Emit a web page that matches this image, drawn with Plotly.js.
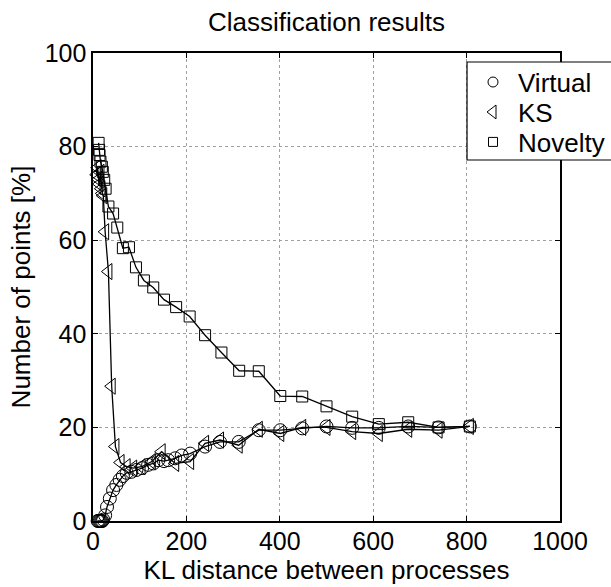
<!DOCTYPE html>
<html>
<head>
<meta charset="utf-8">
<script src="https://cdn.plot.ly/plotly-3.0.1.min.js"></script>
<style>html,body{margin:0;padding:0;background:#fff;}#chart{width:611px;height:587px;}</style>
</head>
<body>
<div id="chart"></div>
<script>
// Data
var virtualX = [10, 12, 14, 16, 18, 20, 22, 26, 30, 36, 43, 50, 57, 64, 72, 82, 93, 105, 118, 129, 140, 152, 161, 176, 190, 208, 240, 272, 312, 355, 401, 448, 500, 555, 612, 675, 740, 807];
var virtualY = [0, 0, 0, 0, 0, 0, 0.3, 1.2, 3.0, 4.8, 6.6, 7.7, 8.8, 9.6, 10.3, 10.5, 10.9, 11.3, 12.0, 12.3, 13.0, 12.8, 13.0, 13.4, 14.0, 14.4, 15.9, 16.9, 16.9, 19.4, 19.4, 19.8, 20.2, 19.9, 19.9, 20.2, 20.0, 20.2];

var ksX = [8, 10, 12, 14, 16, 18, 20, 22, 26, 33, 40, 48, 59, 72, 86, 104, 126, 147, 176, 208, 240, 272, 312, 355, 401, 448, 500, 555, 612, 675, 740, 807];
var ksY = [74, 75.5, 73, 72, 74.5, 71, 70, 69.5, 61.8, 53.3, 28.8, 15.9, 12.5, 11.6, 11.3, 11.6, 12.7, 14.8, 12.3, 12.7, 16.6, 17.3, 16.2, 19.6, 18.7, 20.0, 20.0, 19.1, 18.7, 19.6, 19.4, 20.2];

var noveltyX = [12, 13, 14, 16, 19, 21, 24, 27, 33, 43, 52, 64, 77, 92, 109, 129, 152, 178, 207, 240, 275, 313, 355, 401, 448, 500, 555, 612, 675, 740, 807];
var noveltyY = [80.8, 79.3, 78.2, 76.8, 75.7, 74.6, 72.9, 71.0, 67.2, 65.7, 62.7, 58.3, 58.5, 54.2, 51.4, 49.9, 47.3, 45.7, 43.7, 39.7, 36.0, 32.1, 32.0, 26.7, 26.6, 24.5, 22.3, 20.7, 21.1, 20.0, 20.2];

var seriesNames = ['Virtual', 'KS', 'Novelty'];
var xTicks = [0, 200, 400, 600, 800, 1000];
var yTicks = [0, 20, 40, 60, 80, 100];

var FONT = 'Liberation Sans, Arial, Helvetica, sans-serif';
var symbols = ['circle-open', 'triangle-left-open', 'square-open'];
var markerSizes = [13, 14, 11];
var legendSizes = [10, 12, 9];
var legendIds = ['legend', 'legend2', 'legend3'];
var legendTops = [0.988, 0.924, 0.860];
var xs = [virtualX, ksX, noveltyX];
var ys = [virtualY, ksY, noveltyY];

var traces = [];
for (var i = 0; i < 3; i++) {
  traces.push({
    x: xs[i], y: ys[i], type: 'scatter', mode: 'lines+markers',
    name: seriesNames[i], showlegend: false, cliponaxis: false,
    line: {color: '#000', width: 1.3},
    marker: {symbol: symbols[i], size: markerSizes[i], color: '#000', line: {color: '#000', width: 1}}
  });
}
for (var j = 0; j < 3; j++) {
  traces.push({
    x: [null], y: [null], type: 'scatter', mode: 'markers', name: seriesNames[j],
    legend: legendIds[j],
    marker: {symbol: symbols[j], size: legendSizes[j], color: '#000', line: {color: '#000', width: 1}}
  });
}

var axisCommon = {
  showline: true, linecolor: '#000', linewidth: 1.6, mirror: 'ticks',
  ticks: 'inside', ticklen: 5, tickcolor: '#000', tickwidth: 1,
  showgrid: true, gridcolor: '#a0a0a0', griddash: 'dot', gridwidth: 1,
  zeroline: false, tickfont: {family: FONT, size: 25, color: '#000'}
};

function legendBox(top) {
  return {
    x: 0.803, xanchor: 'left', y: top, yanchor: 'top',
    bgcolor: 'rgba(0,0,0,0)', borderwidth: 0, itemwidth: 40,
    font: {family: FONT, size: 26, color: '#000'}
  };
}

var layout = {
  width: 611, height: 587,
  margin: {l: 93, r: 51, t: 53, b: 66, autoexpand: false},
  paper_bgcolor: '#fff', plot_bgcolor: '#fff',
  font: {family: FONT, color: '#000'},
  title: {text: 'Classification results', font: {family: FONT, size: 26, color: '#000'},
          xref: 'paper', x: 0.5, xanchor: 'center', yref: 'container', y: 0.962, yanchor: 'middle'},
  xaxis: Object.assign({}, axisCommon, {
    range: [0, 1000], tickmode: 'array', tickvals: xTicks, ticktext: xTicks.map(String),
    ticklabelstandoff: -3,
    title: {text: 'KL distance between processes', font: {family: FONT, size: 26, color: '#000'}, standoff: 0}
  }),
  yaxis: Object.assign({}, axisCommon, {
    range: [0, 100], tickmode: 'array', tickvals: yTicks, ticktext: yTicks.map(String),
    title: {text: 'Number of points [%]', font: {family: FONT, size: 26, color: '#000'}, standoff: 6}
  }),
  legend: legendBox(legendTops[0]),
  legend2: legendBox(legendTops[1]),
  legend3: legendBox(legendTops[2]),
  shapes: [{
    type: 'rect', xref: 'paper', yref: 'paper', x0: 0.8009, x1: 1.3, y0: 0.7714, y1: 0.9808,
    line: {color: '#000', width: 1.2}, fillcolor: '#fff', layer: 'above'
  }],
  showlegend: true
};

Plotly.newPlot('chart', traces, layout, {staticPlot: true, displayModeBar: false});
</script>
</body>
</html>
